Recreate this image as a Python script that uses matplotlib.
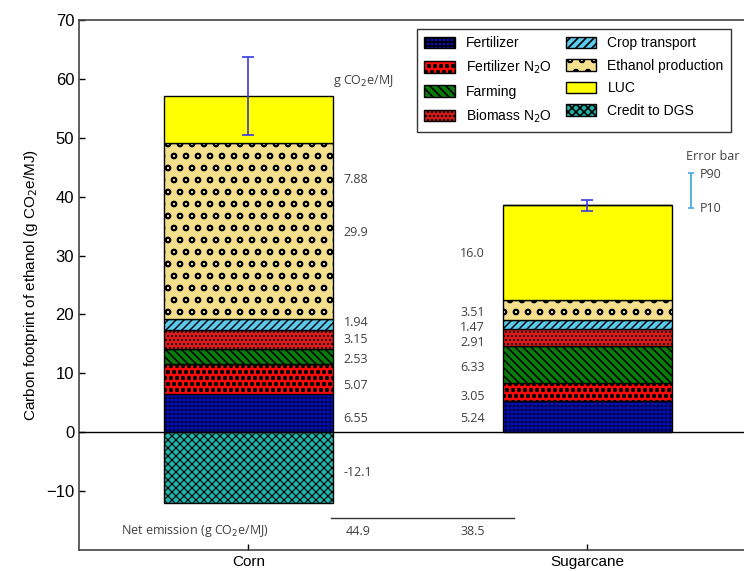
import matplotlib
matplotlib.use("Agg")
import matplotlib.pyplot as plt
import numpy as np

# render at 72 dpi so hatch spacing matches the original; sizes scaled by S
DPI = 72
S = 100 / DPI

plt.rcParams["font.family"] = ["Liberation Sans", "DejaVu Sans"]
plt.rcParams["hatch.linewidth"] = 1.2 * S

# data
crops = ["Corn", "Sugarcane"]
components = ["Fertilizer", "Fertilizer N$_2$O", "Farming", "Biomass N$_2$O",
              "Crop transport", "Ethanol production", "LUC", "Credit to DGS"]
corn_vals = [6.55, 5.07, 2.53, 3.15, 1.94, 29.9, 7.88, -12.1]
cane_vals = [5.24, 3.05, 6.33, 2.91, 1.47, 3.51, 16.0, 0.0]
corn_labels = ["6.55", "5.07", "2.53", "3.15", "1.94", "29.9", "7.88", "-12.1"]
cane_labels = ["5.24", "3.05", "6.33", "2.91", "1.47", "3.51", "16.0", ""]
p10 = [50.4, 37.5]
p90 = [63.7, 39.4]
net_emission = [44.9, 38.5]

# styles
colors = ["#0010c8", "#ff0a0a", "#0a7a0a", "#e01a1a", "#5cc8ea", "#f4e08c", "#ffff00", "#1fb5aa"]
hatches = ["+++", "oo", "\\\\\\", "...", "///", "o", "", "xxx"]
hatch_lw = [0.5, 1.2, 1.1, 0.9, 1.0, 1.3, 1.0, 0.8]

# label positions (hand placed in the original)
corn_label_y = [2.4, 8.0, 12.3, 15.8, 18.6, 34.0, 42.9, -6.9]
cane_label_y = [2.3, 6.0, 11.0, 15.3, 17.8, 20.4, 30.3, 0]

fig = plt.figure(figsize=(744 / DPI, 571 / DPI), dpi=DPI)
ax = fig.add_axes([79 / 744, 21 / 571, 678 / 744, 530 / 571])

x = np.arange(len(crops))
width = 0.5
vals = np.array([corn_vals, cane_vals])
bottom_pos = np.zeros(len(crops))
handles = []
for i, name in enumerate(components):
    v = vals[:, i]
    base = np.where(v >= 0, bottom_pos, 0)
    bars = ax.bar(x, v, width, bottom=base, color=colors[i], hatch=hatches[i],
                  edgecolor="black", linewidth=1.0 * S, label=name, zorder=2)
    for p in bars:
        if hasattr(p, "set_hatch_linewidth"):
            p.set_hatch_linewidth(hatch_lw[i] * S)
    handles.append(bars)
    bottom_pos = bottom_pos + np.where(v >= 0, v, 0)

# error bars
tops = bottom_pos
ax.errorbar(x, tops, yerr=[tops - np.array(p10), np.array(p90) - tops], fmt="none",
            ecolor="#3a3ae0", elinewidth=1.2 * S, capsize=4 * S, capthick=1.2 * S, zorder=4)

ax.axhline(0, color="black", linewidth=1.0 * S, zorder=3)

# value labels
lab_font = dict(fontsize=9 * S, color="#404040", family=["Open Sans", "DejaVu Sans"], va="center")
for lab, y in zip(corn_labels, corn_label_y):
    ax.text(0.28, y, lab, ha="left", **lab_font)
for lab, y in zip(cane_labels, cane_label_y):
    if lab:
        ax.text(0.625, y, lab, ha="left", **lab_font)
ax.text(0.25, 59.6, "g CO$_2$e/MJ", ha="left", **lab_font)

# net emission row
ax.plot([0.242, 0.782], [-14.5, -14.5], color="#333333", linewidth=1.0 * S)
ax.text(-0.375, -16.8, "Net emission (g CO$_2$e/MJ)", ha="left", **lab_font)
ax.text(0.286, -16.9, f"{net_emission[0]}", ha="left", **lab_font)
ax.text(0.625, -16.9, f"{net_emission[1]}", ha="left", **lab_font)

# error bar key
ax.text(1.29, 46.9, "Error bar", ha="left", **lab_font)
ax.errorbar([1.305], [41.05], yerr=[[3.0], [3.0]], fmt="none", ecolor="#4aa8e8",
            elinewidth=1.3 * S, capsize=2 * S, capthick=1.2 * S)
ax.text(1.33, 43.8, "P90", ha="left", **lab_font)
ax.text(1.33, 38.0, "P10", ha="left", **lab_font)

ax.set_xlim(-0.5, 1.5)
ax.set_ylim(-20, 70)
ax.set_yticks(np.arange(-10, 71, 10))
ax.set_xticks(x)
ax.set_xticklabels(crops, fontsize=11 * S)
ax.tick_params(axis="y", direction="in", labelsize=12 * S, length=4 * S, width=S, pad=3.5 * S)
ax.tick_params(axis="x", direction="in", length=4 * S, width=S, pad=3.5 * S)
ax.set_ylabel("Carbon footprint of ethanol (g CO$_2$e/MJ)", fontsize=11 * S, labelpad=4 * S)
for s in ax.spines.values():
    s.set_color("#444444")
    s.set_linewidth(1.2 * S)

leg = ax.legend(handles=handles, ncol=2, loc="upper left", bbox_to_anchor=(0.488, 0.997),
                fontsize=10 * S, frameon=True, fancybox=False, edgecolor="black",
                handlelength=2.2, handleheight=0.9, labelspacing=0.62, columnspacing=1.0,
                borderpad=0.55)
leg.get_frame().set_linewidth(1.0 * S)

fig.savefig("out.png", dpi=DPI)
